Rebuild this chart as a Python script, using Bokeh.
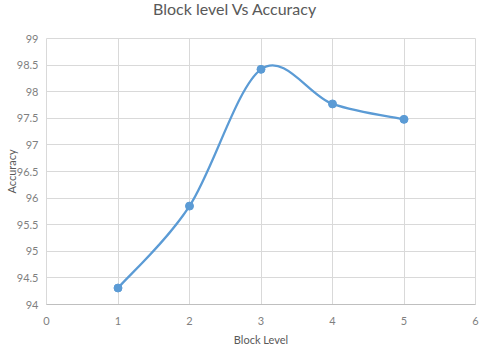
import numpy as np
from bokeh.plotting import figure
from bokeh.models import Range1d, FixedTicker, Div
from bokeh.layouts import column
from bokeh.embed import file_html
from bokeh.resources import INLINE

block_level = [1, 2, 3, 4, 5]
accuracy = [94.31, 95.85, 98.42, 97.77, 97.48]
x_ticks = [0, 1, 2, 3, 4, 5, 6]
y_ticks = [94, 94.5, 95, 95.5, 96, 96.5, 97, 97.5, 98, 98.5, 99]
y_labels = ["94", "94.5", "95", "95.5", "96", "96.5", "97", "97.5", "98", "98.5", "99"]
title_text = "Block level Vs Accuracy"
x_title = "Block Level"
y_title = "Accuracy"

FONT = "Lato"
TXT = "#7f7f7f"
GRID = "#d9d9d9"
BLUE = "#5b9bd5"

TITLE_H = 22
title_div = Div(text=title_text, width=480, height=TITLE_H, margin=(0, 0, 0, 0),
                styles={"font-family": FONT, "font-size": "16px", "color": "#595959",
                        "line-height": "18px", "padding-left": "153px",
                        "white-space": "nowrap"})

p = figure(width=480, height=348 - TITLE_H, output_backend="svg", toolbar_location=None,
           x_range=Range1d(0, 6), y_range=Range1d(94, 99),
           min_border_left=46, min_border_right=5, min_border_top=38 - TITLE_H,
           min_border_bottom=44)

p.outline_line_color = GRID
p.background_fill_color = "white"
p.border_fill_color = "white"

for ax in (p.xaxis[0], p.yaxis[0]):
    ax.major_tick_line_color = None
    ax.minor_tick_line_color = None
    ax.major_label_text_font = FONT
    ax.major_label_text_font_size = "11px"
    ax.major_label_text_color = TXT
    ax.axis_label_text_font = FONT
    ax.axis_label_text_font_size = "11px"
    ax.axis_label_text_font_style = "normal"
    ax.axis_label_text_color = "#595959"

p.xaxis.ticker = FixedTicker(ticks=x_ticks)
p.yaxis.ticker = FixedTicker(ticks=y_ticks)
p.yaxis.major_label_overrides = {t: l for t, l in zip(y_ticks, y_labels)}
p.xaxis.axis_label = x_title
p.yaxis.axis_label = y_title
p.xaxis.axis_line_color = "#bfbfbf"
p.yaxis.axis_line_color = None
p.xaxis.major_label_standoff = 6
p.xaxis.axis_label_standoff = 5
p.yaxis.major_label_standoff = 2
p.yaxis.axis_label_standoff = -4

p.xgrid.grid_line_color = GRID
p.ygrid.grid_line_color = GRID
p.xgrid.ticker = FixedTicker(ticks=x_ticks)
p.ygrid.ticker = FixedTicker(ticks=y_ticks)

# Excel-style smoothed line (Catmull-Rom -> cubic Bezier)
x = np.array(block_level, dtype=float)
y = np.array(accuracy, dtype=float)
xp = np.concatenate([[x[0]], x, [x[-1]]])
yp = np.concatenate([[y[0]], y, [y[-1]]])
n = len(x)
x0 = x[:-1]; y0 = y[:-1]; x1 = x[1:]; y1 = y[1:]
cx0 = x0 + (xp[2:n+1] - xp[0:n-1]) / 6
cy0 = y0 + (yp[2:n+1] - yp[0:n-1]) / 6
cx1 = x1 - (xp[3:n+2] - xp[1:n]) / 6
cy1 = y1 - (yp[3:n+2] - yp[1:n]) / 6
p.bezier(x0=x0, y0=y0, x1=x1, y1=y1, cx0=cx0, cy0=cy0, cx1=cx1, cy1=cy1,
         line_color=BLUE, line_width=2.25)
p.scatter(block_level, accuracy, size=8, fill_color=BLUE, line_color=BLUE)

layout = column(title_div, p, spacing=0)
open("out.html", "w").write(file_html(layout, INLINE))
